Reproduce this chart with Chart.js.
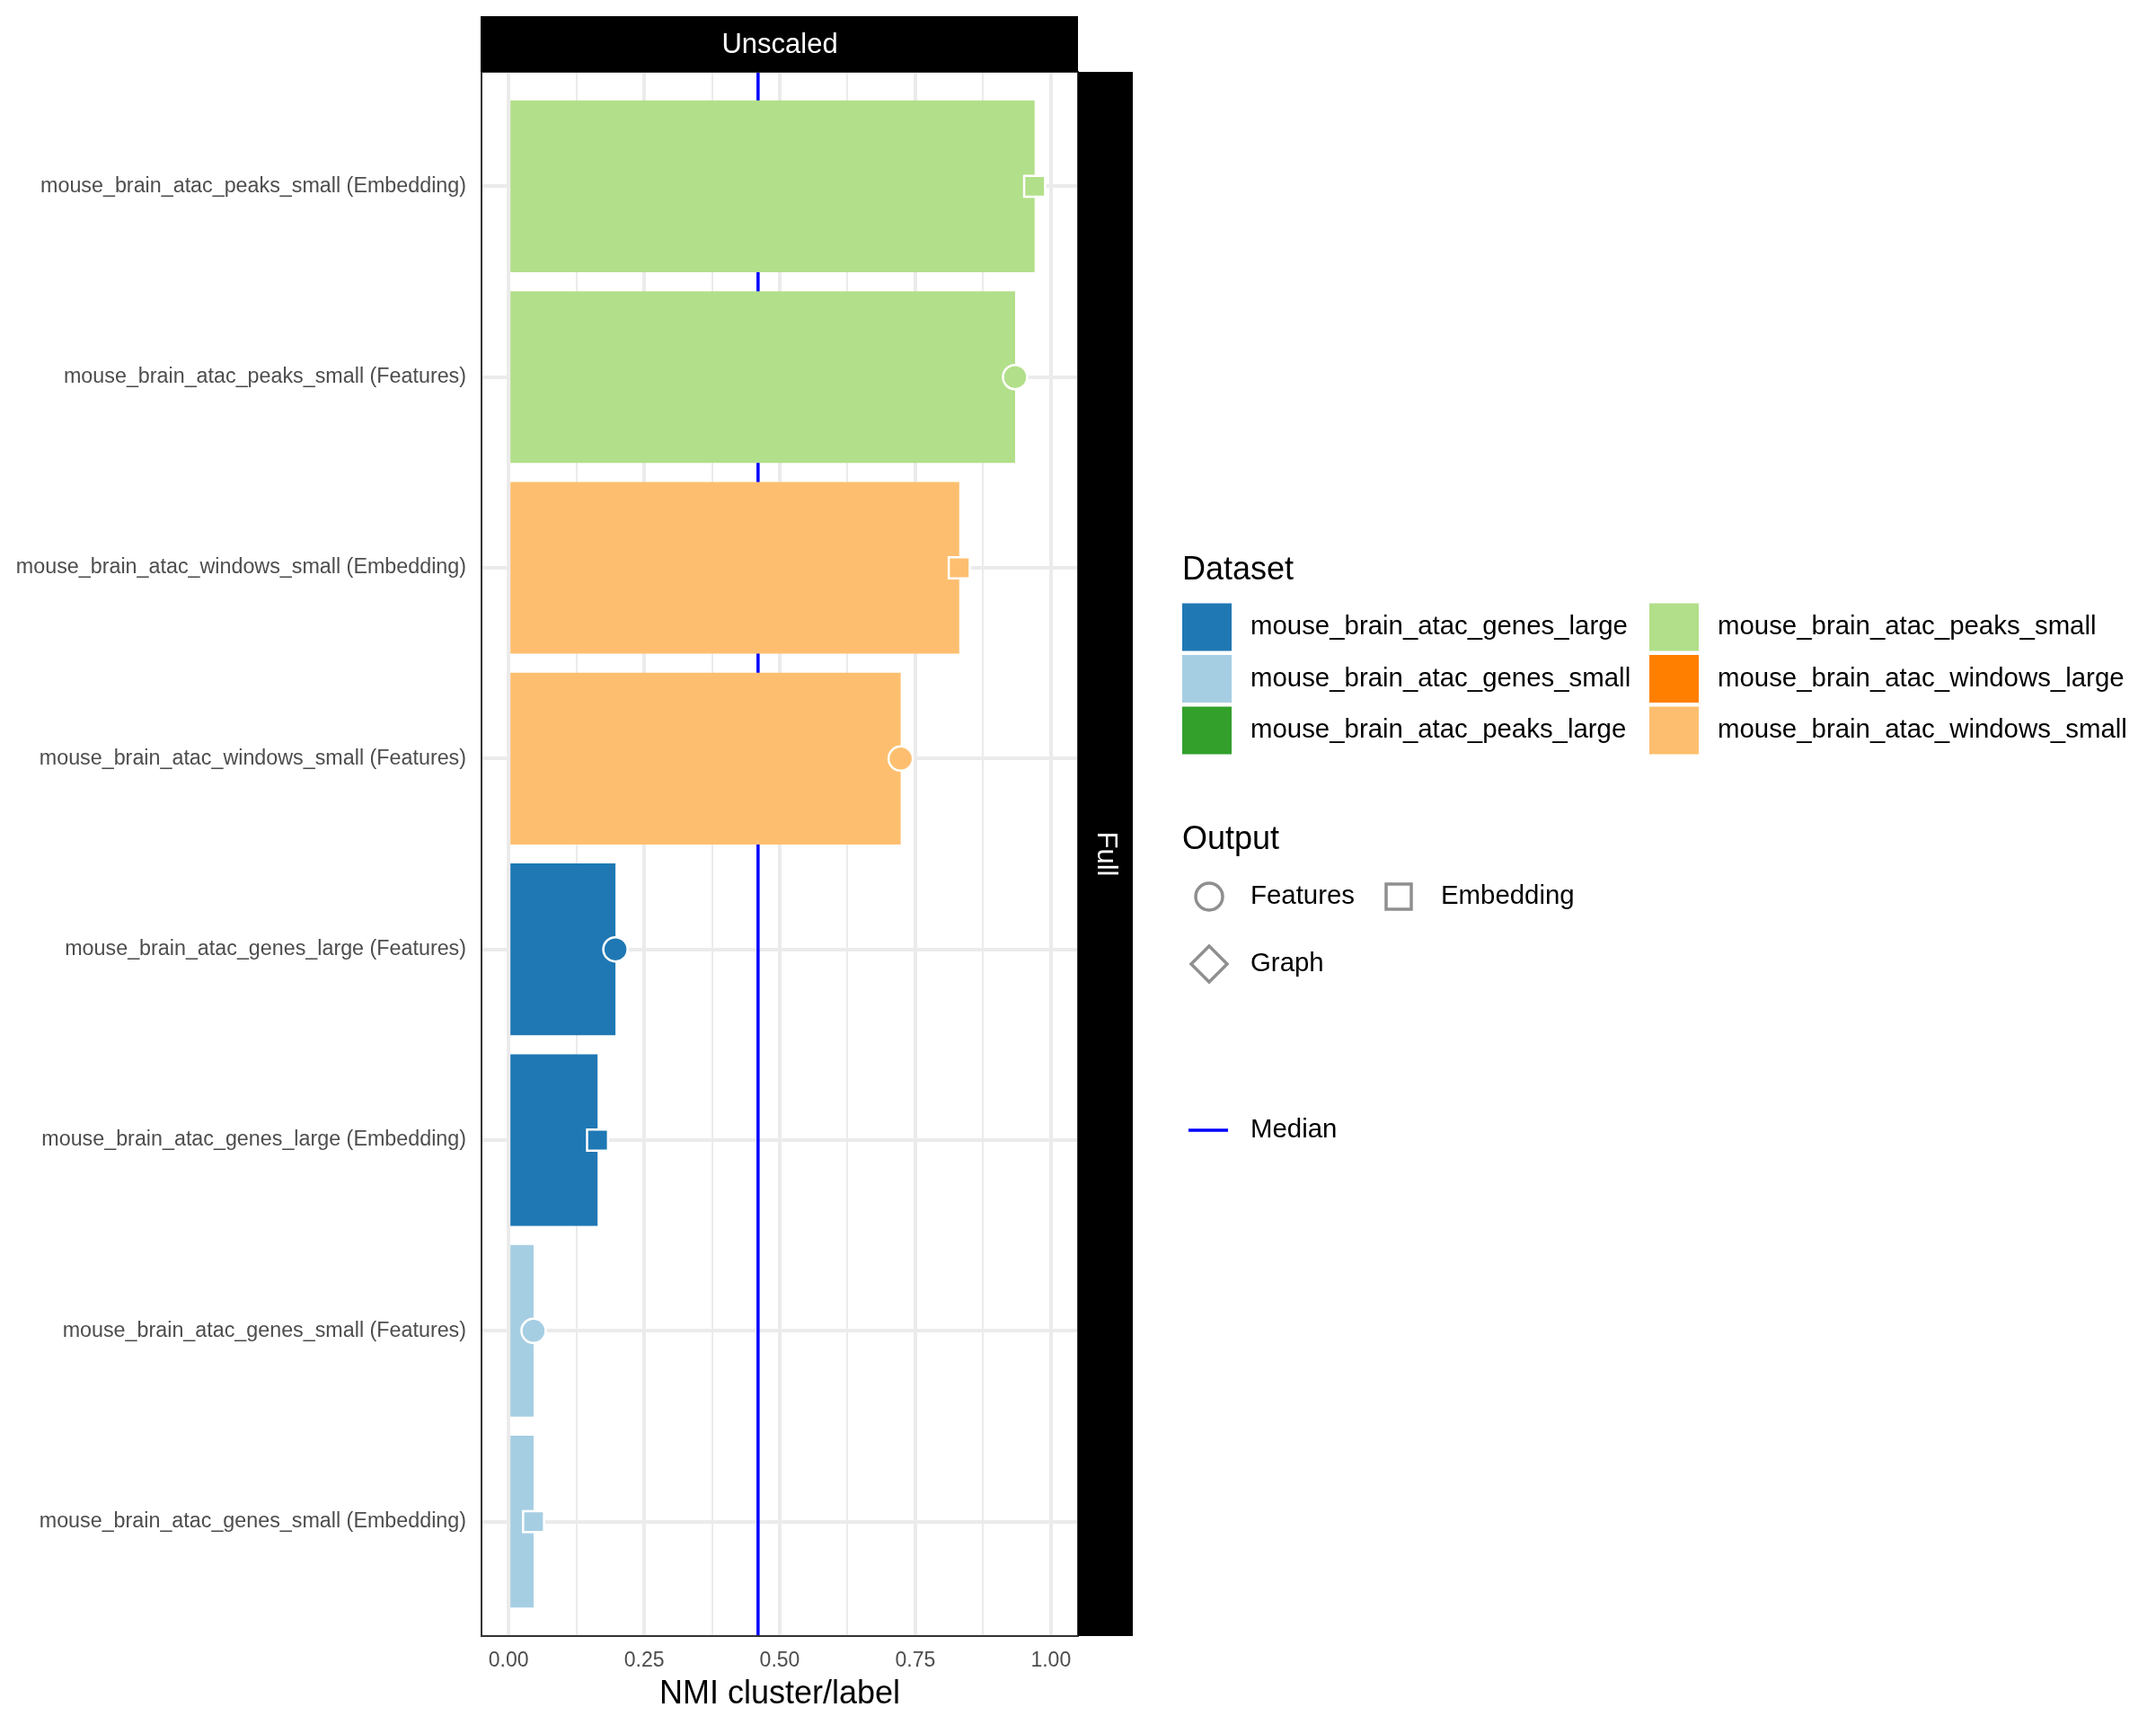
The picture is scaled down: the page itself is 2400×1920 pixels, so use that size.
<!DOCTYPE html>
<html>
<head>
<meta charset="utf-8">
<script src="https://cdn.jsdelivr.net/npm/chart.js@4.4.0/dist/chart.umd.min.js"></script>
<style>
    html, body { margin: 0; padding: 0; background: #ffffff; }
    #wrap { width: 2400px; height: 1920px; }
</style>
</head>
<body>
<div id="wrap"><canvas id="nmiChart" width="2400" height="1920"></canvas></div>
<script>
// -------------------------------
// DATA
// -------------------------------
const categories = [
    'mouse_brain_atac_peaks_small (Embedding)',
    'mouse_brain_atac_peaks_small (Features)',
    'mouse_brain_atac_windows_small (Embedding)',
    'mouse_brain_atac_windows_small (Features)',
    'mouse_brain_atac_genes_large (Features)',
    'mouse_brain_atac_genes_large (Embedding)',
    'mouse_brain_atac_genes_small (Features)',
    'mouse_brain_atac_genes_small (Embedding)'
];
const categoryDataset = [
    'mouse_brain_atac_peaks_small', 'mouse_brain_atac_peaks_small',
    'mouse_brain_atac_windows_small', 'mouse_brain_atac_windows_small',
    'mouse_brain_atac_genes_large', 'mouse_brain_atac_genes_large',
    'mouse_brain_atac_genes_small', 'mouse_brain_atac_genes_small'
];
const categoryOutput = ['Embedding', 'Features', 'Embedding', 'Features', 'Features', 'Embedding', 'Features', 'Embedding'];
const nmiValues = [0.970, 0.934, 0.831, 0.723, 0.197, 0.164, 0.046, 0.046];

const datasetNames = [
    'mouse_brain_atac_genes_large', 'mouse_brain_atac_genes_small', 'mouse_brain_atac_peaks_large',
    'mouse_brain_atac_peaks_small', 'mouse_brain_atac_windows_large', 'mouse_brain_atac_windows_small'
];
const datasetColors = ['#1F78B4', '#A6CEE3', '#33A02C', '#B2DF8A', '#FF7F00', '#FDBF6F'];
const outputNames = ['Features', 'Embedding', 'Graph'];

const xMajorTicks = [0, 0.25, 0.5, 0.75, 1.0];
const xMinorTicks = [0.125, 0.375, 0.625, 0.875];

const panelTitle = 'Unscaled';
const rowTitle = 'Full';

// median of all scores (blue line)
const sorted = [...nmiValues].sort((a, b) => a - b);
const medianValue = (sorted[3] + sorted[4]) / 2;

const colorOf = name => datasetColors[datasetNames.indexOf(name)];
const FONT = '"Liberation Sans", Arial, Helvetica, sans-serif';

// -------------------------------
// STRIPS + PANEL BORDER + LEGEND
// -------------------------------
const decorPlugin = {
    id: 'decor',
    afterDraw(chart) {
        const ctx = chart.ctx;
        const a = chart.chartArea;
        ctx.save();

        // panel border
        ctx.strokeStyle = '#333333';
        ctx.lineWidth = 2;
        ctx.strokeRect(a.left, a.top, a.right - a.left, a.bottom - a.top);

        // facet strips
        ctx.fillStyle = '#000000';
        ctx.fillRect(a.left - 1, 18, a.right - a.left + 1, a.top - 18);
        ctx.fillRect(a.right, a.top, 61, a.bottom - a.top);
        ctx.fillStyle = '#ffffff';
        ctx.font = '31px ' + FONT;
        ctx.textAlign = 'center';
        ctx.textBaseline = 'middle';
        ctx.fillText(panelTitle, (a.left + a.right) / 2, (18 + a.top) / 2 + 1);
        ctx.save();
        ctx.translate(a.right + 30.5, (a.top + a.bottom) / 2);
        ctx.rotate(Math.PI / 2);
        ctx.fillText(rowTitle, 0, 0);
        ctx.restore();

        // legend: Dataset
        const lx = 1316;
        ctx.textAlign = 'left';
        ctx.fillStyle = '#000000';
        ctx.font = '36px ' + FONT;
        ctx.fillText('Dataset', lx, 635);
        ctx.font = '29.4px ' + FONT;
        datasetNames.forEach((name, i) => {
            const col = Math.floor(i / 3);
            const yc = 698 + (i % 3) * 57.5;
            const sx = col ? lx + 520 : lx;
            ctx.fillStyle = datasetColors[i];
            ctx.fillRect(sx, yc - 26.5, 55, 53);
            ctx.fillStyle = '#000000';
            ctx.fillText(name, sx + 76, yc);
        });

        // legend: Output
        ctx.font = '36px ' + FONT;
        ctx.fillText('Output', lx, 935);
        ctx.font = '29.4px ' + FONT;
        ctx.strokeStyle = '#8F8F8F';
        ctx.lineWidth = 3.5;
        ctx.beginPath();
        ctx.arc(lx + 30, 998, 15, 0, Math.PI * 2);
        ctx.stroke();
        ctx.strokeRect(lx + 227, 984, 28, 28);
        ctx.beginPath();
        ctx.moveTo(lx + 30, 1053); ctx.lineTo(lx + 50, 1073); ctx.lineTo(lx + 30, 1093); ctx.lineTo(lx + 10, 1073);
        ctx.closePath();
        ctx.stroke();
        ctx.fillText(outputNames[0], lx + 76, 998);
        ctx.fillText(outputNames[1], lx + 288, 998);
        ctx.fillText(outputNames[2], lx + 76, 1073);

        // legend: Median
        ctx.strokeStyle = '#0000FF';
        ctx.lineWidth = 3.5;
        ctx.beginPath();
        ctx.moveTo(lx + 7, 1258); ctx.lineTo(lx + 51, 1258);
        ctx.stroke();
        ctx.fillText('Median', lx + 76, 1258);

        ctx.restore();
    }
};

// -------------------------------
// CHART
// -------------------------------
const ctx = document.getElementById('nmiChart').getContext('2d');
window.nmiChart = new Chart(ctx, {
    type: 'bar',
    data: {
        datasets: [
            {
                type: 'line',
                data: [{ x: medianValue, y: -0.6 }, { x: medianValue, y: 7.6 }],
                borderColor: '#0000FF',
                borderWidth: 3.5,
                pointRadius: 0,
                order: 3
            },
            {
                type: 'bar',
                data: categories.map((c, i) => ({ x: nmiValues[i], y: i })),
                backgroundColor: categoryDataset.map(colorOf),
                barPercentage: 0.9,
                categoryPercentage: 1,
                order: 2
            },
            {
                type: 'scatter',
                data: categories.map((c, i) => ({ x: nmiValues[i], y: i })),
                pointStyle: categoryOutput.map(o => o === 'Features' ? 'circle' : 'rect'),
                pointRadius: categoryOutput.map(o => o === 'Features' ? 13.5 : 16.5),
                backgroundColor: categoryDataset.map(colorOf),
                borderColor: '#ffffff',
                borderWidth: 2.5,
                order: 1
            }
        ]
    },
    options: {
        indexAxis: 'y',
        responsive: false,
        animation: false,
        devicePixelRatio: 1,
        layout: { padding: { top: 80, right: 1200, bottom: 0, left: 0 } },
        plugins: {
            legend: { display: false },
            tooltip: { enabled: false }
        },
        scales: {
            x: {
                type: 'linear',
                position: 'bottom',
                min: -0.05,
                max: 1.05,
                afterBuildTicks: scale => {
                    scale.ticks = [...xMajorTicks, ...xMinorTicks].sort((p, q) => p - q).map(v => ({ value: v }));
                },
                afterFit: scale => { scale.height = 99; },
                ticks: {
                    autoSkip: false,
                    maxRotation: 0,
                    padding: 14,
                    color: '#4D4D4D',
                    font: { family: FONT, size: 23 },
                    callback: v => xMajorTicks.includes(v) ? v.toFixed(2) : ''
                },
                grid: {
                    color: '#EBEBEB',
                    lineWidth: c => xMajorTicks.includes(c.tick && c.tick.value) ? 4 : 2,
                    drawTicks: false
                },
                border: { display: false },
                title: {
                    display: true,
                    text: 'NMI cluster/label',
                    color: '#000000',
                    font: { family: FONT, size: 36 },
                    padding: { top: 2, bottom: 12 }
                }
            },
            y: {
                type: 'linear',
                reverse: true,
                offset: false,
                min: -0.6,
                max: 7.6,
                afterBuildTicks: scale => {
                    scale.ticks = categories.map((c, i) => ({ value: i }));
                },
                afterFit: scale => { scale.width = 536; },
                ticks: {
                    autoSkip: false,
                    padding: 17,
                    color: '#4D4D4D',
                    font: { family: FONT, size: 23.3 },
                    callback: v => categories[v]
                },
                grid: {
                    offset: false,
                    color: '#EBEBEB',
                    lineWidth: 4,
                    drawTicks: false
                },
                border: { display: false }
            }
        }
    },
    plugins: [decorPlugin]
});
</script>
</body>
</html>
